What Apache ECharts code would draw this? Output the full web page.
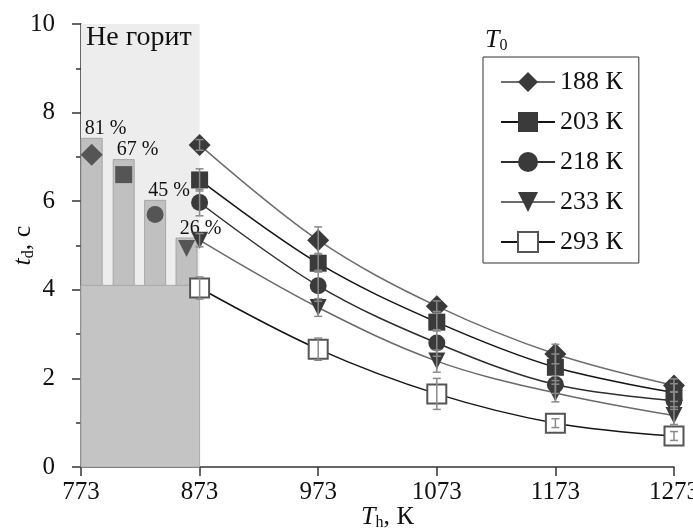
<!DOCTYPE html>
<html>
<head>
<meta charset="utf-8">
<script src="https://cdn.jsdelivr.net/npm/echarts@6/dist/echarts.min.js"></script>
<style>
  html, body { margin: 0; padding: 0; background: #fff; }
  #chart { width: 693px; height: 531px; }
</style>
</head>
<body>
<div id="chart"></div>
<script>
// tick labels on the Th axis
var xTicks = [773, 873, 973, 1073, 1173, 1273];
// heating temperatures, K
var temps = [873, 973, 1073, 1173, 1273];
var names = ['188 К', '203 К', '218 К', '233 К', '293 К'];
// delay time, s
var t188 = [7.27, 5.12, 3.63, 2.55, 1.84];
var t203 = [6.48, 4.60, 3.27, 2.25, 1.68];
var t218 = [5.97, 4.09, 2.80, 1.86, 1.50];
var t233 = [5.12, 3.60, 2.39, 1.67, 1.16];
var t293 = [4.04, 2.66, 1.65, 0.99, 0.70];
// error half-widths
var e188 = [0.12, 0.30, 0.12, 0.22, 0.15];
var e203 = [0.25, 0.20, 0.20, 0.30, 0.20];
var e218 = [0.30, 0.35, 0.30, 0.20, 0.20];
var e233 = [0.15, 0.20, 0.25, 0.20, 0.20];
var e293 = [0.25, 0.25, 0.35, 0.10, 0.10];
// "Не горит" zone
var zoneX = [773, 873];
var zoneTop = 10;
var zoneBase = 4.1;
var barX = [782, 809, 835.5, 862];
var barVal = [7.43, 6.95, 6.03, 5.18];
var barPct = ['81 %', '67 %', '45 %', '26 %'];
var inBar = [7.05, 6.60, 5.70, 4.93];

var font = 'Liberation Serif';
var syms = ['diamond', 'rect', 'circle', 'triangle', 'emptyRect'];
var symSize = [22, 17, 17, 17, 19];
var symRot = [0, 0, 0, 180, 0];
var lineColors = ['#6e6e6e', '#151515', '#2e2e2e', '#6a6a6a', '#151515'];
var allY = [t188, t203, t218, t233, t293];
var allErr = [e188, e203, e218, e233, e293];

var chart = echarts.init(document.getElementById('chart'));

var series = [];
// grey bars in the no-ignition zone
series.push({
  type: 'bar',
  data: barX.map(function (x, i) { return [x, barVal[i]]; }),
  barWidth: 22,
  z: 2,
  itemStyle: { color: '#c0c0c0', borderColor: '#a5a5a5', borderWidth: 1 },
  label: {
    show: true, position: 'top', distance: 0, offset: [14, 1],
    formatter: function (p) { return barPct[p.dataIndex]; },
    fontSize: 20, fontFamily: font, color: '#111'
  },
  markArea: {
    silent: true,
    z: 1,
    itemStyle: { color: '#ededed' },
    label: {
      show: true, position: [5, 0],
      fontSize: 28, fontFamily: font, color: '#111'
    },
    data: [[{ name: 'Не горит', coord: [zoneX[0], zoneTop] }, { coord: [zoneX[1], 0] }]]
  }
});
// markers inside bars
series.push({
  type: 'scatter',
  z: 4,
  data: barX.map(function (x, i) {
    return { value: [x, inBar[i]], symbol: syms[i], symbolSize: symSize[i], symbolRotate: symRot[i] };
  }),
  itemStyle: { color: '#3a3a3a' },
  markArea: {
    silent: true,
    z: 3,
    itemStyle: { color: '#c4c4c4', borderColor: '#a8a8a8', borderWidth: 1 },
    data: [[{ coord: [zoneX[0], zoneBase] }, { coord: [zoneX[1], 0] }]]
  }
});
// curves
names.forEach(function (n, k) {
  var empty = syms[k] === 'emptyRect';
  series.push({
    type: 'line',
    name: n,
    z: 5,
    smooth: 0.35,
    data: temps.map(function (x, i) { return [x, allY[k][i]]; }),
    symbol: syms[k],
    symbolSize: symSize[k],
    symbolRotate: symRot[k],
    showAllSymbol: true,
    lineStyle: { color: lineColors[k], width: 1.5 },
    itemStyle: empty ? { color: '#555', borderWidth: 1.5 } : { color: '#3a3a3a' }
  });
});
// error bars
var errData = [];
allY.forEach(function (ys, k) {
  ys.forEach(function (y, i) { errData.push([temps[i], y, allErr[k][i]]); });
});
series.push({
  type: 'custom',
  z: 6,
  silent: true,
  data: errData,
  renderItem: function (params, api) {
    var x = api.value(0), y = api.value(1), e = api.value(2);
    var hi = api.coord([x, y + e]);
    var lo = api.coord([x, y - e]);
    var st = { stroke: '#8a8a8a', lineWidth: 1.5 };
    return {
      type: 'group',
      children: [
        { type: 'line', shape: { x1: hi[0], y1: hi[1], x2: lo[0], y2: lo[1] }, style: st },
        { type: 'line', shape: { x1: hi[0] - 4, y1: hi[1], x2: hi[0] + 4, y2: hi[1] }, style: st },
        { type: 'line', shape: { x1: lo[0] - 4, y1: lo[1], x2: lo[0] + 4, y2: lo[1] }, style: st }
      ]
    };
  }
});

var axisLine = { lineStyle: { color: '#333', width: 1.5 } };
var nameRich = {
  i: { fontSize: 26, fontStyle: 'italic', fontWeight: 'normal', fontFamily: font, color: '#111', lineHeight: 28 },
  s: { fontSize: 16, fontWeight: 'normal', fontFamily: font, color: '#111', verticalAlign: 'bottom', lineHeight: 12 },
  n: { fontSize: 26, fontWeight: 'normal', fontFamily: font, color: '#111', lineHeight: 28 }
};

chart.setOption({
  animation: false,
  backgroundColor: '#fff',
  textStyle: { fontFamily: font },
  grid: { left: 81, right: 19, top: 24, bottom: 64, outerBoundsMode: 'none', containLabel: false },
  title: {
    text: '{i|T}{s|0}',
    left: 485, top: 26, padding: 0,
    textStyle: { fontWeight: 'normal', rich: nameRich }
  },
  legend: {
    data: names,
    orient: 'vertical',
    left: 483, top: 57,
    padding: [12, 16, 8, 17],
    itemWidth: 54, itemHeight: 25, itemGap: 14,
    borderColor: '#333', borderWidth: 1,
    textStyle: { fontSize: 26, fontFamily: font, color: '#111' }
  },
  xAxis: {
    type: 'value',
    min: xTicks[0], max: xTicks[xTicks.length - 1],
    name: '{i|T}{s|h}{n|, К}',
    nameLocation: 'middle', nameGap: 36, nameMoveOverlap: false,
    nameTextStyle: { rich: nameRich, padding: [0, 0, 0, 20] },
    axisLine: axisLine,
    axisTick: { customValues: xTicks, length: 9, lineStyle: axisLine.lineStyle },
    axisLabel: {
      customValues: xTicks, fontSize: 25, fontFamily: font, color: '#111', margin: 13,
      formatter: function (v) { return String(v); }
    },
    splitLine: { show: false }
  },
  yAxis: {
    type: 'value',
    min: 0, max: 10, interval: 2,
    name: '{i|t}{s|d}{n|, с}',
    nameLocation: 'middle', nameGap: 44, nameMoveOverlap: false,
    nameTextStyle: { rich: nameRich },
    axisLine: { show: true, lineStyle: axisLine.lineStyle },
    axisTick: { show: true, length: 9, lineStyle: axisLine.lineStyle },
    minorTick: { show: true, splitNumber: 2, length: 5, lineStyle: axisLine.lineStyle },
    axisLabel: {
      fontSize: 25, fontFamily: font, color: '#111', margin: 26,
      formatter: function (v) { return String(v); }
    },
    splitLine: { show: false }
  },
  series: series
});
</script>
</body>
</html>
